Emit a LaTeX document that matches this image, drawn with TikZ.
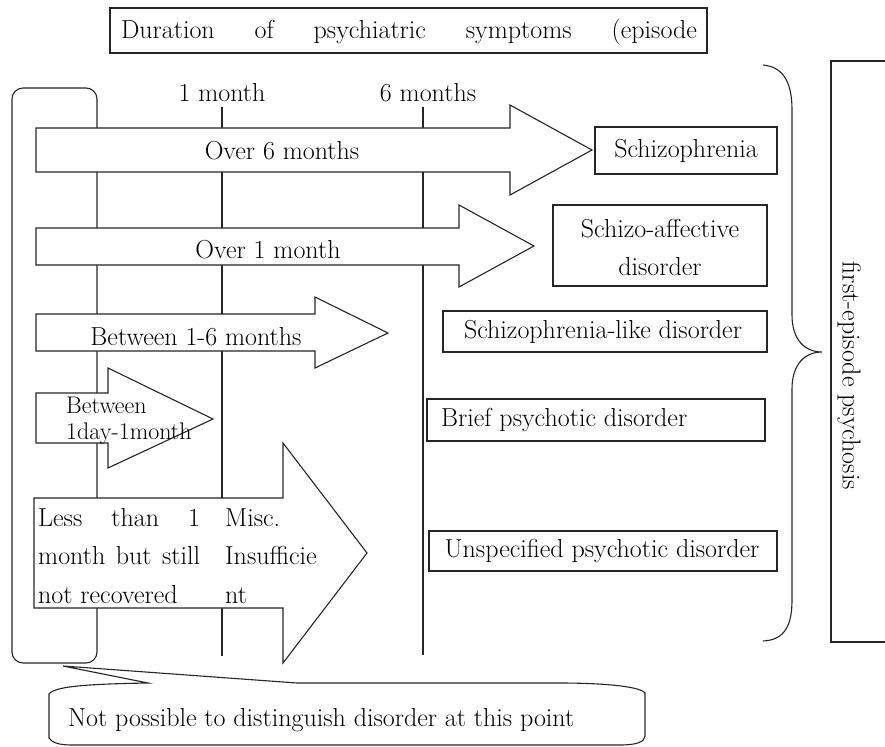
\documentclass[tikz,border=0pt]{standalone}
\begin{document}
\begin{tikzpicture}[x=1pt,y=-1pt,
  every node/.style={font=\fontsize{26}{30}\selectfont, inner sep=0pt},
  ln/.style={draw=black!85, line width=1.1pt},
  arr/.style={draw=black!85, line width=1.1pt, fill=white, line join=miter},
  box/.style={draw=black!85, line width=1.1pt, fill=white},
  lbl/.style={anchor=base}]
\useasboundingbox (0,0) rectangle (885,746);

% title
\draw[box] (110,8) rectangle (707,53);
\node[anchor=base] (title) at (409,39) {\makebox[576pt]{Duration\hfill of\hfill psychiatric\hfill symptoms\hfill (episode}};

% time labels
\node[lbl] (m1) at (222,102) {1 month};
\node[lbl] (m6) at (428,102) {6 months};

% bracket box and vertical lines
\draw[ln, rounded corners=11pt] (97,88) -- (12,88) -- (12,663) -- (97,663) -- cycle;
\coordinate (l1t) at (222,107); \coordinate (l1b) at (222,656);
\coordinate (l6t) at (423,107); \coordinate (l6b) at (423,655);
\draw[ln] (l1t) -- (l1b);
\draw[ln] (l6t) -- (l6b);

% arrows
\draw[arr] (36,128) -- (510,128) -- (510,105) -- (592,150) -- (510,195) -- (510,172) -- (36,172) -- cycle;
\node (a1) at (282,151) {Over 6 months};

\draw[arr] (36,228) -- (459,228) -- (459,205) -- (534,246) -- (459,287) -- (459,265) -- (36,265) -- cycle;
\node (a2) at (268,250) {Over 1 month};

\draw[arr] (36,314) -- (315,314) -- (315,297) -- (388,333) -- (315,368) -- (315,351) -- (36,351) -- cycle;
\node (a3) at (196,337) {Between 1-6 months};

\draw[arr] (36,393) -- (108,393) -- (108,368) -- (213,419) -- (108,468) -- (108,443) -- (36,443) -- cycle;
\node[anchor=west, align=left, font=\fontsize{24}{26}\selectfont] (a4) at (66,421) {Between\\1day-1month};

\draw[arr] (34,498) -- (283,498) -- (283,443) -- (367,553) -- (283,663) -- (283,608) -- (34,608) -- cycle;
\node[anchor=base west] (a5a) at (38,526) {\makebox[162pt][l]{Less\hfill than\hfill 1}};
\node[anchor=base west] (a5b) at (38,564) {\makebox[162pt][l]{month\hfill but\hfill still}};
\node[anchor=base west] (a5c) at (38,603) {not recovered};
\node[anchor=base west] (a5d) at (225,526) {Misc.};
\node[anchor=base west] (a5e) at (225,564) {Insufficie};
\node[anchor=base west] (a5f) at (225,603) {nt};

% outcome boxes
\draw[box] (595,127) rectangle (777,174);
\node (d1) at (686,151) {Schizophrenia};
\draw[box] (553,205) rectangle (767,286);
\node[anchor=base] (d2a) at (660,237) {Schizo-affective};
\node[anchor=base] (d2b) at (660,275) {disorder};
\draw[box] (443,311) rectangle (767,352);
\node (d3) at (603,332) {Schizophrenia-like disorder};
\draw[box] (427,399) rectangle (765,441);
\node[anchor=west] (d4) at (441,420) {Brief psychotic disorder};
\draw[box] (429,531) rectangle (777,571);
\node (d5) at (602,551) {Unspecified psychotic disorder};

% brace
\draw[ln] (763,65) .. controls (785,67) and (792,85) .. (792,110)
  -- (792,315) .. controls (792,340) and (805,352) .. (822,352)
  .. controls (805,352) and (792,364) .. (792,389)
  -- (792,600) .. controls (792,625) and (785,640) .. (763,641);

% right box
\draw[ln] (886,61) -- (831,61) -- (831,642) -- (886,642);
\node[rotate=-90] (fep) at (849,376) {first-episode psychosis};

% callout
\coordinate (tip) at (63,666);
\draw[ln, fill=white] (tip) -- (148,683)
  .. controls (90,684) and (55,686) .. (49,694)
  -- (49,738) .. controls (52,743) and (60,745) .. (72,745)
  -- (620,745) .. controls (636,745) and (645,742) .. (645,736)
  -- (645,693) .. controls (640,686) and (600,683) .. (560,683)
  -- (297,683) -- cycle;
\node[anchor=base west] (note) at (68,726) {Not possible to distinguish disorder at this point};
\end{tikzpicture}
\end{document}
